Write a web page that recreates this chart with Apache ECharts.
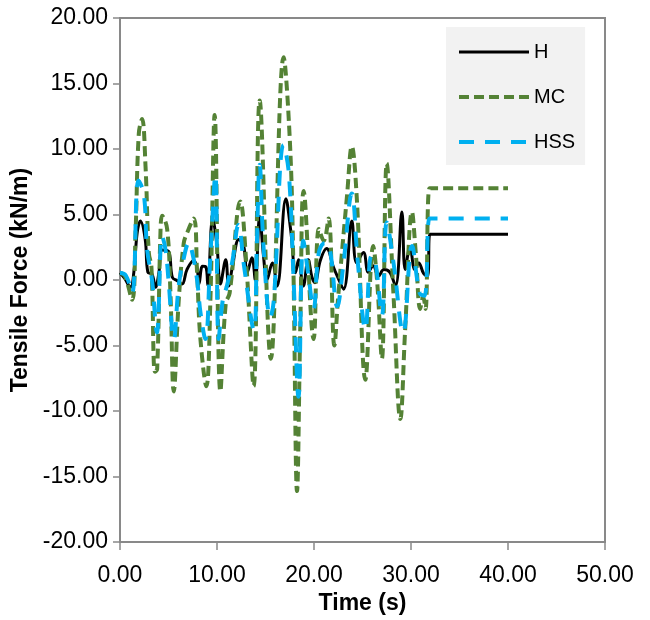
<!DOCTYPE html>
<html>
<head>
<meta charset="utf-8">
<script src="https://cdn.jsdelivr.net/npm/echarts@6/dist/echarts.min.js"></script>
<style>
  html, body { margin: 0; padding: 0; background: #fff; }
  #chart { width: 650px; height: 620px; }
</style>
</head>
<body>
<div id="chart"></div>
<script>
// Tensile force histories (kN/m) against time (s) for the three models
const hTime = [0, 0.5, 1.08, 1.42, 1.77, 2.1, 2.6, 2.87, 3.3, 3.66, 4.0, 4.35, 5.0, 5.4, 5.9, 6.4, 6.9, 7.6, 7.95, 8.15, 8.5, 8.85, 9.05, 9.55, 10.0, 10.35, 10.9, 11.2, 11.6, 12.25, 12.75, 13.1, 13.6, 13.95, 14.4, 14.8, 15.15, 15.7, 16.2, 17.1, 17.6, 18.1, 18.4, 18.9, 19.4, 19.8, 20.1, 20.65, 21.3, 22.0, 22.4, 23.05, 23.9, 24.4, 25.1, 25.6, 26.1, 26.65, 27.2, 27.8, 28.4, 29.06, 29.4, 29.9, 30.4, 30.8, 31.3, 31.7, 31.95, 32.3, 40];
const hForce = [0.55, 0.1, -0.55, 0.55, 3.6, 4.5, 3.1, 0.6, 0.45, -0.55, 0.5, 2.3, 2.2, 0.2, -0.05, -0.3, 0.8, 1.5, 0.9, -0.3, 1.05, 1.0, -0.4, 4.7, 2.6, -0.3, 1.55, -0.45, 1.05, 3.1, 2.6, 0.55, 1.7, 0.0, 4.85, 1.8, 0.0, 1.3, -0.45, 6.2, 3.8, 0.55, 1.55, -0.45, 1.55, 0.2, -0.2, 1.5, 2.4, 1.0, 0.3, -0.7, 4.5, 1.3, 2.1, 0.6, 1.1, 0.3, 0.8, 0.6, -0.45, 5.2, 0.8, 2.5, 0.8, 1.3, 0.5, 0.3, 3.5, 3.5, 3.5];

const mcTime = [0, 0.5, 1.25, 1.6, 1.94, 2.28, 2.63, 2.97, 3.24, 3.6, 3.83, 4.17, 4.35, 4.86, 5.2, 5.54, 6.06, 6.57, 6.92, 7.6, 7.95, 8.29, 8.9, 9.32, 9.76, 10.35, 10.9, 11.3, 12.4, 13.0, 13.78, 14.4, 15.55, 16.87, 17.5, 17.85, 18.25, 18.6, 18.93, 19.96, 20.5, 21.0, 21.5, 22.1, 22.5, 23.4, 23.9, 24.4, 25.3, 26.1, 26.5, 27.0, 27.5, 28.2, 28.9, 29.4, 30.1, 30.5, 30.95, 31.25, 31.5, 31.9, 32.3, 40];
const mcForce = [0.55, 0.3, -1.5, 3.6, 11.2, 12.3, 8.7, 2.1, 1.0, -7.0, -6.8, 3.6, 4.9, 3.9, -1.0, -8.5, -1.5, 2.8, 3.6, 4.7, 0.5, -4.5, -8.1, -1.5, 12.6, -8.5, -1.8, -1.0, 6.0, 1.5, -8.1, 13.7, -6.0, 17.0, 10.8, 2.0, -16.1, -3.0, 6.8, -4.5, 3.9, 3.0, 4.7, -5.0, -1.2, 6.4, 10.2, 6.4, -7.6, 2.6, 0.0, -6.0, 8.9, -1.2, -10.6, -3.75, 5.2, 2.0, -2.2, -1.3, -2.2, 7.0, 7.0, 7.0];

const hssTime = [0, 0.6, 1.25, 1.9, 2.45, 2.8, 3.3, 3.8, 4.35, 4.7, 5.0, 5.55, 6.05, 6.55, 7.1, 7.45, 7.95, 8.3, 8.8, 9.3, 9.83, 10.17, 10.6, 11.0, 11.6, 12.2, 12.8, 13.8, 14.1, 14.4, 14.8, 15.5, 15.85, 16.87, 17.4, 17.9, 18.4, 18.9, 19.4, 19.95, 20.5, 21.1, 21.6, 22.4, 23.0, 23.9, 24.5, 25.3, 25.9, 26.3, 27.0, 27.5, 28.2, 29.2, 30.1, 30.9, 31.4, 31.9, 32.3, 40];
const hssForce = [0.55, 0.35, -0.95, 7.6, 6.6, 2.3, 0.0, -4.0, 3.35, 2.3, 0.0, -4.5, -0.45, 1.6, 2.85, 2.1, 0.0, -2.5, -4.5, 1.6, 8.0, -4.5, -1.5, -0.5, 1.5, 4.2, 1.0, -3.8, 2.5, 8.8, 2.5, -2.85, -1.6, 10.3, 8.2, 0.0, -8.9, 3.0, 0.5, -2.2, 2.1, 2.8, 2.5, -2.0, 1.0, 6.6, 1.5, -3.75, 1.8, 1.5, -2.7, 4.4, 1.3, -4.0, 2.6, -1.0, -1.2, 4.7, 4.7, 4.7];

const seriesNames = ['H', 'MC', 'HSS'];
const xTitle = 'Time (s)';
const yTitle = 'Tensile Force (kN/m)';

const pairs = (ts, vs) => ts.map((t, i) => [t, vs[i]]);

const FONT = 'Liberation Sans, Arial, sans-serif';
const AXIS_GRAY = '#898989';

// line looks shared by the plotted series and their legend keys
const styles = [
  { color: '#000000', width: 3, type: 'solid' },
  { color: '#548235', width: 4, type: [10, 5] },
  { color: '#00b0f0', width: 4, type: [15, 11] }
];

const chart = echarts.init(document.getElementById('chart'), null, { renderer: 'canvas' });

chart.setOption({
  animation: false,
  backgroundColor: '#ffffff',
  grid: {
    left: 120, right: 45, top: 18, bottom: 76,
    show: true, borderColor: AXIS_GRAY, borderWidth: 2, backgroundColor: 'transparent'
  },
  legend: {
    orient: 'vertical',
    left: 446, top: 27,
    padding: [15, 10, 13, 11],
    backgroundColor: '#f2f2f2',
    itemWidth: 70, itemHeight: 20, itemGap: 25,
    textStyle: { fontFamily: FONT, fontSize: 20, color: '#000' },
    itemStyle: { opacity: 0 },
    data: seriesNames.map((n, i) => ({
      name: n,
      itemStyle: { opacity: 0 },
      lineStyle: { color: styles[i].color, width: styles[i].width, type: styles[i].type }
    }))
  },
  xAxis: {
    type: 'value', min: 0, max: 50, interval: 10,
    name: xTitle, nameLocation: 'middle', nameGap: 49,
    nameTextStyle: { fontFamily: FONT, fontSize: 23, fontWeight: 'bold', color: '#000' },
    axisLine: { show: true, onZero: false, lineStyle: { color: AXIS_GRAY, width: 2 } },
    axisTick: { show: true, length: 8, lineStyle: { color: AXIS_GRAY, width: 1.5 } },
    axisLabel: { fontFamily: FONT, fontSize: 23, color: '#000', margin: 22, formatter: v => v.toFixed(2) },
    splitLine: { show: false }
  },
  yAxis: {
    type: 'value', min: -20, max: 20, interval: 5,
    name: yTitle, nameLocation: 'middle', nameGap: 84,
    nameTextStyle: { fontFamily: FONT, fontSize: 23, fontWeight: 'bold', color: '#000' },
    axisLine: { show: true, onZero: false, lineStyle: { color: AXIS_GRAY, width: 2 } },
    axisTick: { show: true, length: 7, lineStyle: { color: AXIS_GRAY, width: 1.5 } },
    axisLabel: { fontFamily: FONT, fontSize: 23, color: '#000', margin: 12, formatter: v => v.toFixed(2) },
    splitLine: { show: false }
  },
  series: [
    { name: seriesNames[0], data: pairs(hTime, hForce), z: 2 },
    { name: seriesNames[1], data: pairs(mcTime, mcForce), z: 3 },
    { name: seriesNames[2], data: pairs(hssTime, hssForce), z: 4 }
  ].map((s, i) => Object.assign({
    type: 'line', smooth: 0.4, symbol: 'none',
    lineStyle: styles[i], itemStyle: { color: styles[i].color }
  }, s))
});
</script>
</body>
</html>
